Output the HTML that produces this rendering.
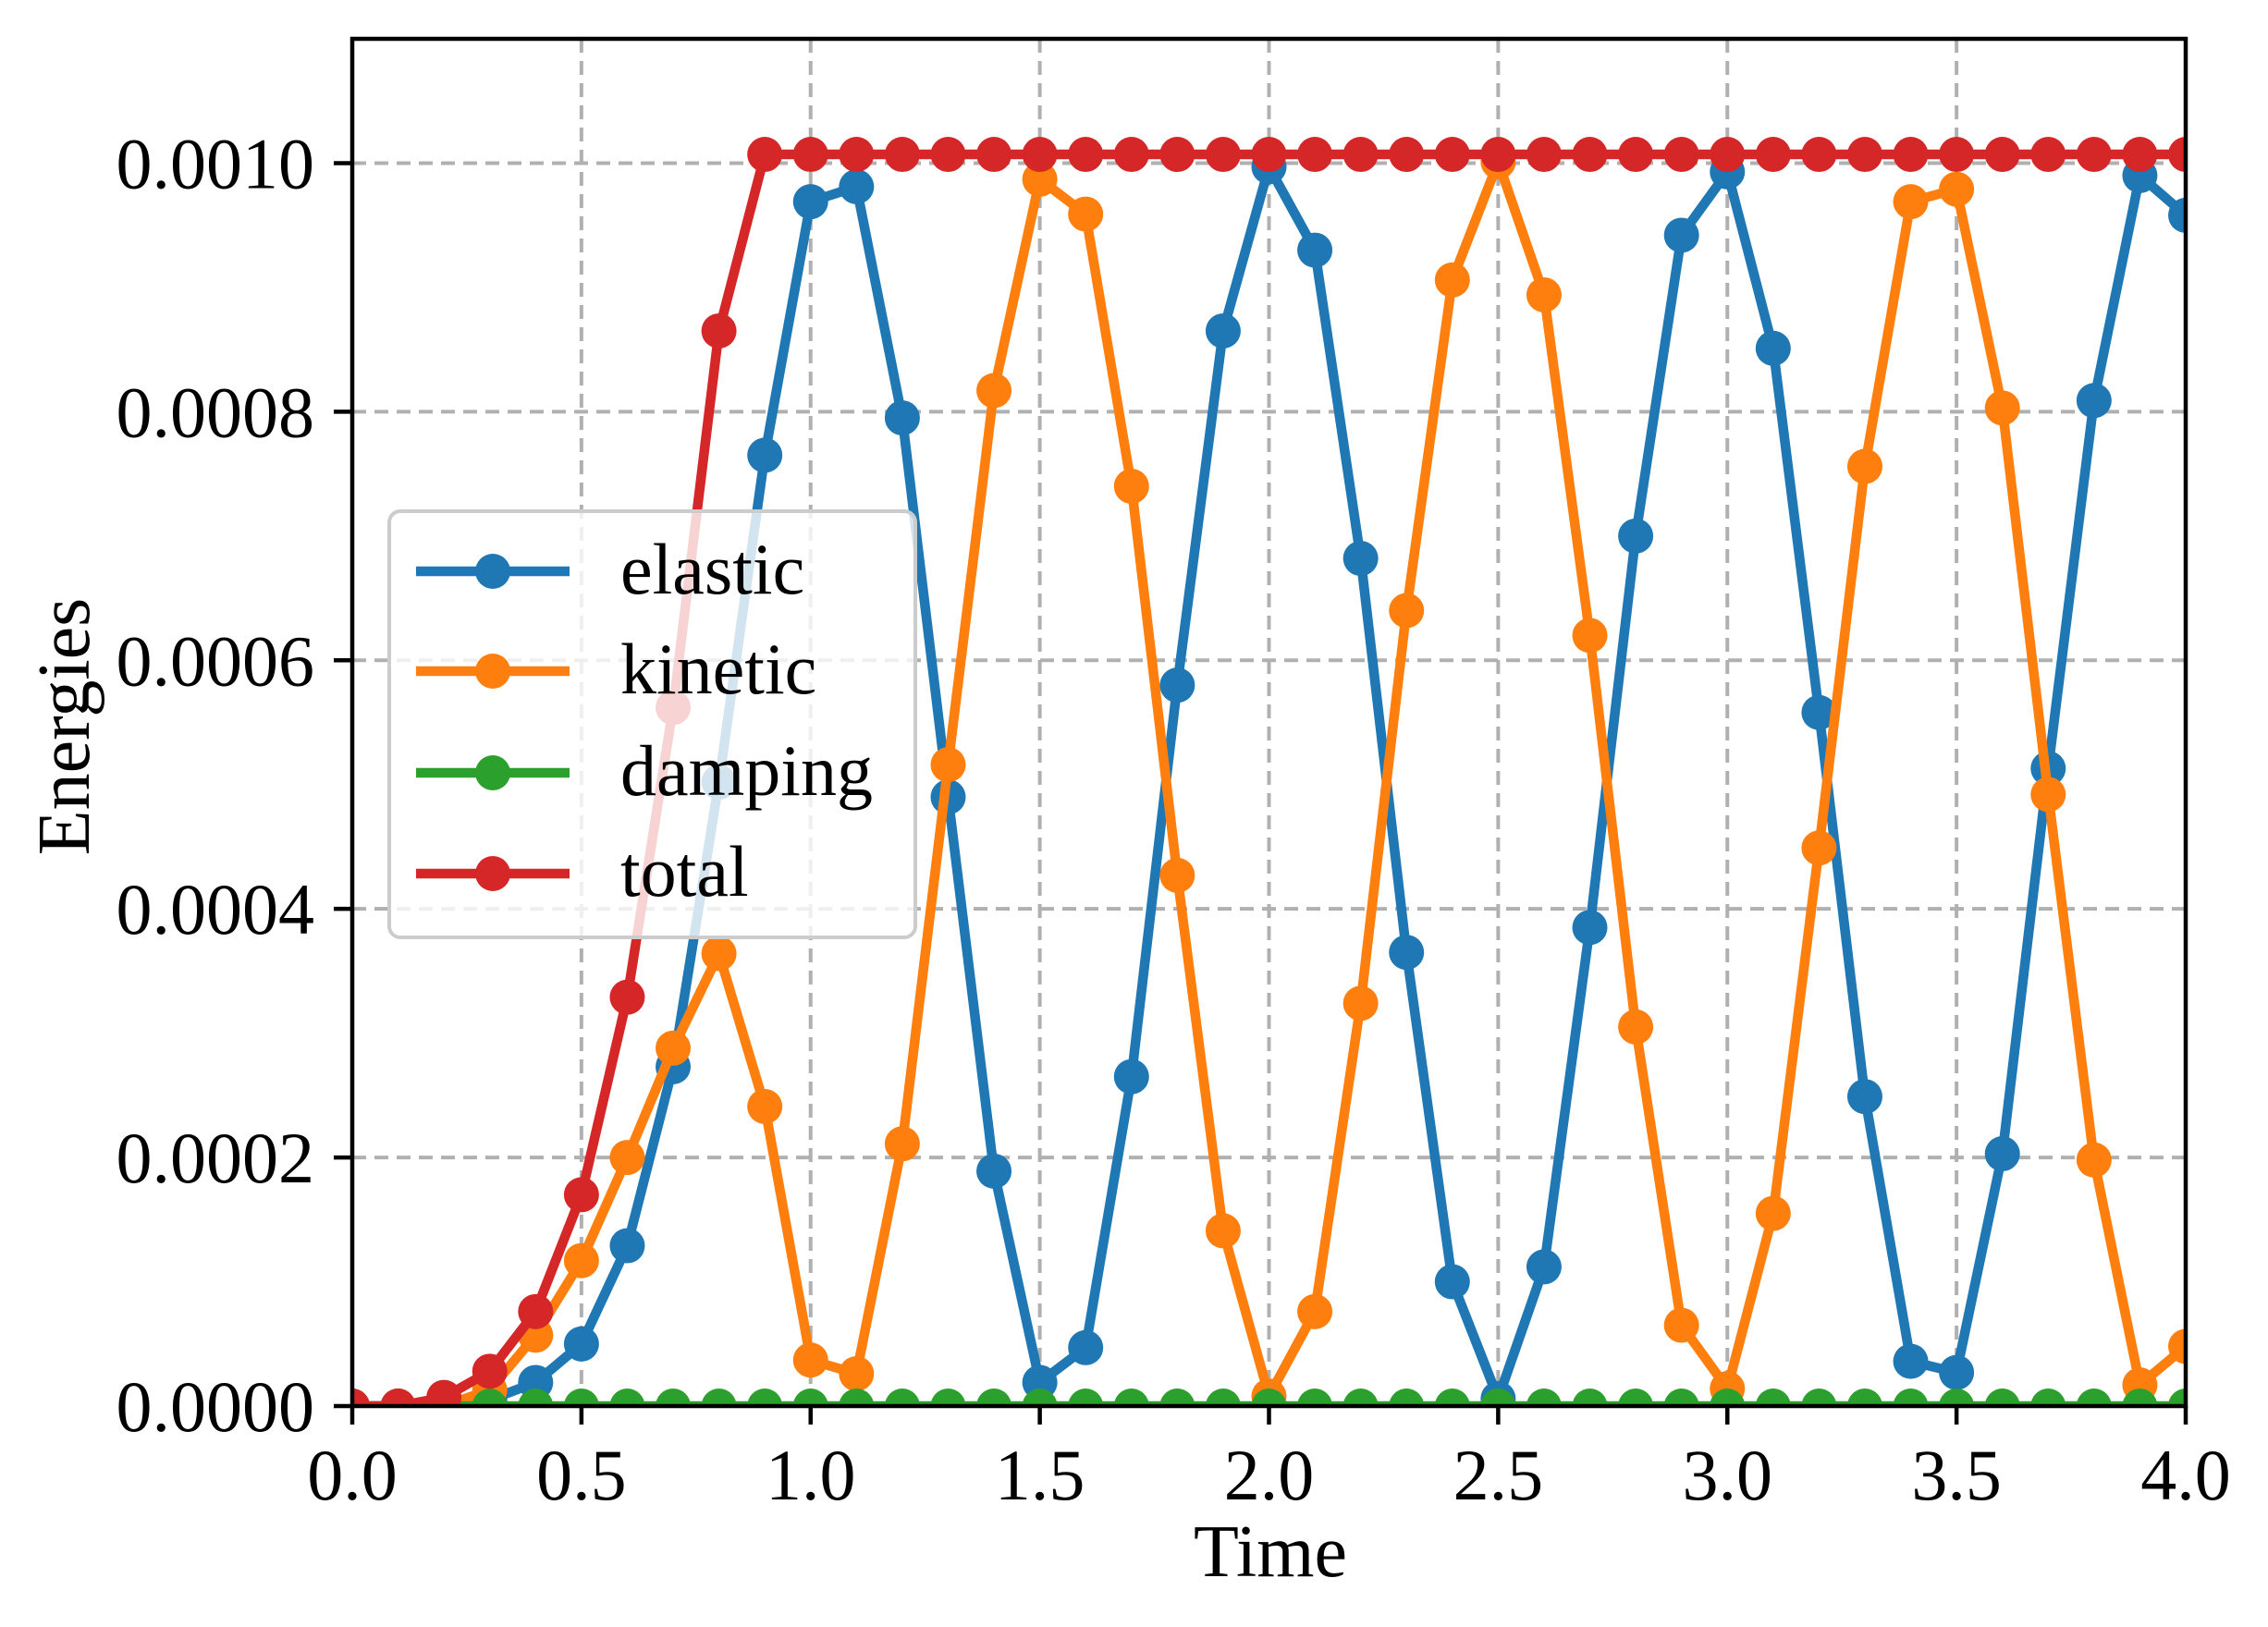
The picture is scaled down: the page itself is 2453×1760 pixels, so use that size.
<!DOCTYPE html>
<html><head><meta charset="utf-8"><style>
html,body{margin:0;padding:0;background:#fff;}
svg{display:block;font-family:"Liberation Serif","DejaVu Serif",serif;}
</style></head><body>
<svg id="chart" width="2453" height="1760" viewBox="0 0 2453 1760" xmlns="http://www.w3.org/2000/svg">
<rect width="2453" height="1760" fill="#fff"/>
<g id="grid"></g>
<g id="series"></g>
<g id="axes"></g>
<text x="1374" y="1705" font-size="80" text-anchor="middle">Time</text>
<text x="0" y="0" font-size="80" text-anchor="middle" transform="translate(96,786) rotate(-90)">Energies</text>
<g id="legend"></g>
</svg>
<script>
const times = [0,0.1,0.2,0.3,0.4,0.5,0.6,0.7,0.8,0.9,1.0,1.1,1.2,1.3,1.4,1.5,1.6,1.7,1.8,1.9,2.0,2.1,2.2,2.3,2.4,2.5,2.6,2.7,2.8,2.9,3.0,3.1,3.2,3.3,3.4,3.5,3.6,3.7,3.8,3.9,4.0];
const elastic = [0,0,0,0.000005,0.000019,0.00005,0.000129,0.000273,0.000502,0.000765,0.000969,0.000981,0.000795,0.00049,0.000189,0.000019,0.000047,0.000265,0.00058,0.000865,0.000997,0.00093,0.000682,0.000365,0.0001,0.000006,0.000112,0.000385,0.0007,0.000942,0.000993,0.000851,0.000558,0.000249,0.000036,0.000027,0.000203,0.000513,0.000809,0.00099,0.000958];
const kinetic = [0,0,0,0.000013,0.000057,0.000117,0.0002,0.000288,0.000364,0.000241,0.000037,0.000026,0.000211,0.000516,0.000817,0.000987,0.000959,0.00074,0.000427,0.000141,0.000008,0.000076,0.000324,0.00064,0.000906,0.001001,0.000894,0.00062,0.000305,0.000065,0.000014,0.000155,0.000449,0.000756,0.000969,0.000979,0.000803,0.000492,0.000198,0.000017,0.000048];
const damping = [0,0,0,0,0,0,0,0,0,0,0,0,0,0,0,0,0,0,0,0,0,0,0,0,0,0,0,0,0,0,0,0,0,0,0,0,0,0,0,0,0];
const total = [0,0,0.000007,0.000028,0.000076,0.00017,0.000329,0.000562,0.000865,0.001007,0.001007,0.001007,0.001007,0.001007,0.001007,0.001007,0.001007,0.001007,0.001007,0.001007,0.001007,0.001007,0.001007,0.001007,0.001007,0.001007,0.001007,0.001007,0.001007,0.001007,0.001007,0.001007,0.001007,0.001007,0.001007,0.001007,0.001007,0.001007,0.001007,0.001007,0.001007];
const xTicks = [0,0.5,1.0,1.5,2.0,2.5,3.0,3.5,4.0];
const xTickLabels = ["0.0","0.5","1.0","1.5","2.0","2.5","3.0","3.5","4.0"];
const yTicks = [0,0.0002,0.0004,0.0006,0.0008,0.0010];
const yTickLabels = ["0.0000","0.0002","0.0004","0.0006","0.0008","0.0010"];
const seriesNames = ["elastic","kinetic","damping","total"];

const NS="http://www.w3.org/2000/svg";
const L=381,R=2364,T=42,B=1521,XMAX=4,YMAX=0.0011;
const xs=v=>L+(v/XMAX)*(R-L);
const ys=v=>B-(v/YMAX)*(B-T);
function mk(tag,attrs,parent){const e=document.createElementNS(NS,tag);for(const k in attrs)e.setAttribute(k,attrs[k]);parent.appendChild(e);return e;}
const grid=document.getElementById('grid'),axes=document.getElementById('axes'),ser=document.getElementById('series'),leg=document.getElementById('legend');
xTicks.forEach((t,i)=>{
  const g=mk('line',{x1:xs(t),x2:xs(t),y1:T,y2:B,stroke:'#b0b0b0','stroke-width':4,'stroke-dasharray':'15,9'},grid);
  
  
  const tk=mk('line',{x1:xs(t),x2:xs(t),y1:B,y2:B+20,stroke:'#000','stroke-width':4.5},axes);
  
  
  const tx=mk('text',{x:xs(t),y:1622,'font-size':78,'text-anchor':'middle'},axes);
  tx.textContent=xTickLabels[i];
  
  
});
yTicks.forEach((t,i)=>{
  const g=mk('line',{x1:L,x2:R,y1:ys(t),y2:ys(t),stroke:'#b0b0b0','stroke-width':4,'stroke-dasharray':'15,9'},grid);
  
  
  const tk=mk('line',{x1:L-20,x2:L,y1:ys(t),y2:ys(t),stroke:'#000','stroke-width':4.5},axes);
  
  
  const tx=mk('text',{x:340,y:ys(t)+27,'font-size':78,'text-anchor':'end'},axes);
  tx.textContent=yTickLabels[i];
  
  
});
const colors=['#1f77b4','#ff7f0e','#2ca02c','#d62728'];
[elastic,kinetic,damping,total].forEach((vals,si)=>{
  const g=mk('g',{},ser);
  
  
  const pts=vals.map((v,i)=>xs(times[i]).toFixed(1)+','+ys(v).toFixed(1)).join(' ');
  const pl=mk('polyline',{points:pts,fill:'none',stroke:colors[si],'stroke-width':10.5,'stroke-linejoin':'round'},g);
  
  
  vals.forEach((v,i)=>{
    const c=mk('circle',{cx:xs(times[i]),cy:ys(v),r:19,fill:colors[si]},g);
    
    
  });
});
const cp=mk('clipPath',{id:'clip'},document.getElementById('chart'));
mk('rect',{x:L,y:T,width:R-L,height:B-T},cp);
ser.setAttribute('clip-path','url(#clip)');
const frame=mk('rect',{x:L,y:T,width:R-L,height:B-T,fill:'none',stroke:'#000','stroke-width':4.5},axes);


const box=mk('rect',{x:421,y:553,width:569,height:461,rx:12,fill:'#fff','fill-opacity':0.8,stroke:'#cccccc','stroke-width':4},leg);


const rowsY=[618,726,836,945];
seriesNames.forEach((n,i)=>{
  const g=mk('g',{},leg);
  
  
  mk('line',{x1:450,x2:616,y1:rowsY[i],y2:rowsY[i],stroke:colors[i],'stroke-width':10.5},g);
  mk('circle',{cx:533,cy:rowsY[i],r:19,fill:colors[i]},g);
  const t=mk('text',{x:671,y:rowsY[i]+24,'font-size':78},g);
  t.textContent=n;
});
</script>
</body></html>
